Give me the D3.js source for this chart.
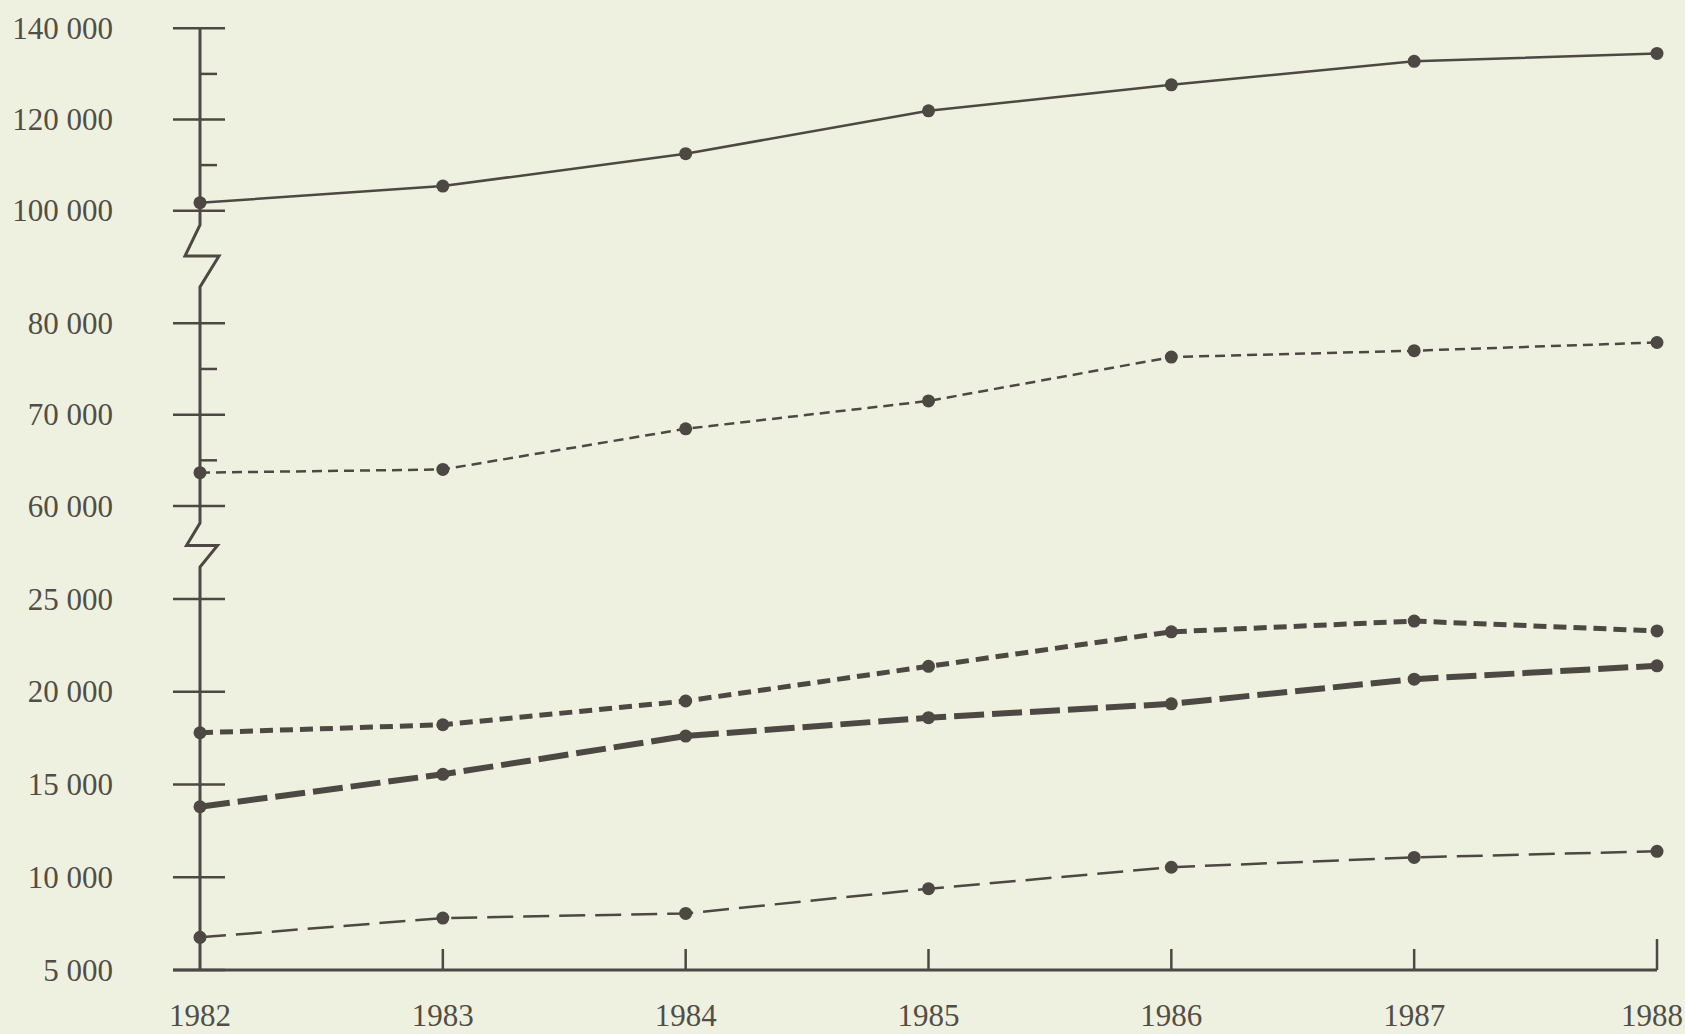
<!DOCTYPE html>
<html>
<head>
<meta charset="utf-8">
<script src="https://cdn.jsdelivr.net/npm/d3@7"></script>
<style>
  html, body { margin: 0; padding: 0; background: #eef1df; }
  svg { display: block; }
  text { font-family: "Liberation Serif", "DejaVu Serif", serif; fill: #524d47; }
</style>
</head>
<body>
<svg id="chart" width="1685" height="1034"></svg>
<script>
// ---- data ----
const years = [1982, 1983, 1984, 1985, 1986, 1987, 1988];

// top panel (100 000 – 140 000)
const seriesTotal = [101750, 105400, 112500, 121900, 127600, 132750, 134500];
// middle panel (60 000 – 80 000)
const seriesMiddle = [63650, 64000, 68450, 71500, 76300, 77000, 77900];
// bottom panel (5 000 – 25 000)
const seriesA = [17790, 18220, 19500, 21370, 23230, 23810, 23280];
const seriesB = [13800, 15550, 17610, 18600, 19350, 20680, 21400];
const seriesC = [6760, 7800, 8050, 9380, 10540, 11070, 11400];

const ticksTop = [100000, 120000, 140000];
const minorTop = [110000, 130000];
const ticksMid = [60000, 70000, 80000];
const minorMid = [65000, 75000];
const ticksBot = [5000, 10000, 15000, 20000, 25000];

// ---- drawing ----
const ink = "#4d4843";
const svg = d3.select("#chart");
svg.append("rect").attr("width", 1685).attr("height", 1034).attr("fill", "#eef1df");

const x = d3.scaleLinear().domain([1982, 1988]).range([200, 1657]);
const yTop = d3.scaleLinear().domain([100000, 140000]).range([210.7, 28.3]);
const yMid = d3.scaleLinear().domain([60000, 80000]).range([506, 323.3]);
const yBot = d3.scaleLinear().domain([5000, 25000]).range([970, 599]);

const fmt = d3.formatLocale({ decimal: ".", thousands: " ", grouping: [3], currency: ["", ""] }).format(",d");

const axisX = x(1982);
const g = svg.append("g");

// vertical axis with breaks
const axisPath = [
  [axisX, yTop(140000)], [axisX, 225],
  [185, 256], [219, 256], [axisX, 287],
  [axisX, 523],
  [186.5, 545.5], [217.5, 545.5], [axisX, 567],
  [axisX, yBot(5000)]
];
g.append("path")
  .attr("d", d3.line()(axisPath))
  .attr("fill", "none").attr("stroke", ink).attr("stroke-width", 3)
  .attr("stroke-linejoin", "miter");

// horizontal axis
g.append("line")
  .attr("x1", 173).attr("x2", x(1988))
  .attr("y1", yBot(5000)).attr("y2", yBot(5000))
  .attr("stroke", ink).attr("stroke-width", 3);

// x ticks
years.slice(1).forEach(yr => {
  const len = yr === 1988 ? 31 : 21;
  g.append("line")
    .attr("x1", x(yr)).attr("x2", x(yr))
    .attr("y1", yBot(5000)).attr("y2", yBot(5000) - len)
    .attr("stroke", ink).attr("stroke-width", 2.5);
});

// year labels (last one kept inside the page edge)
const lastYear = years[years.length - 1];
g.selectAll("text.year").data(years).join("text")
  .attr("class", "year")
  .attr("x", d => d === lastYear ? 1683 : x(d)).attr("y", 1026)
  .attr("text-anchor", d => d === lastYear ? "end" : "middle")
  .attr("font-size", 31)
  .text(d => d);

// y ticks and labels
function majorTicks(scale, vals) {
  vals.forEach(v => {
    const yy = scale(v);
    g.append("line").attr("x1", 173).attr("x2", 225)
      .attr("y1", yy).attr("y2", yy)
      .attr("stroke", ink).attr("stroke-width", 2.5);
    g.append("text").attr("x", 113).attr("y", yy + 10.5)
      .attr("text-anchor", "end").attr("font-size", 31)
      .text(fmt(v));
  });
}
function minorTicks(scale, vals) {
  vals.forEach(v => {
    const yy = scale(v);
    g.append("line").attr("x1", axisX).attr("x2", 217)
      .attr("y1", yy).attr("y2", yy)
      .attr("stroke", ink).attr("stroke-width", 2.5);
  });
}
majorTicks(yTop, ticksTop);
minorTicks(yTop, minorTop);
majorTicks(yMid, ticksMid);
minorTicks(yMid, minorMid);
majorTicks(yBot, ticksBot);

// series
const series = [
  { values: seriesTotal, scale: yTop, width: 2.5, dash: null },
  { values: seriesMiddle, scale: yMid, width: 2.5, dash: "10 6" },
  { values: seriesA, scale: yBot, width: 5, dash: "13 7" },
  { values: seriesB, scale: yBot, width: 6, dash: "30 8" },
  { values: seriesC, scale: yBot, width: 2.5, dash: "26 10" }
];

series.forEach(s => {
  const pts = years.map((yr, i) => [x(yr), s.scale(s.values[i])]);
  const p = g.append("path")
    .attr("d", d3.line()(pts))
    .attr("fill", "none").attr("stroke", ink)
    .attr("stroke-width", s.width);
  if (s.dash) p.attr("stroke-dasharray", s.dash);
  g.selectAll(null).data(pts).join("circle")
    .attr("cx", d => d[0]).attr("cy", d => d[1]).attr("r", 6.5)
    .attr("fill", ink);
});
</script>
</body>
</html>
